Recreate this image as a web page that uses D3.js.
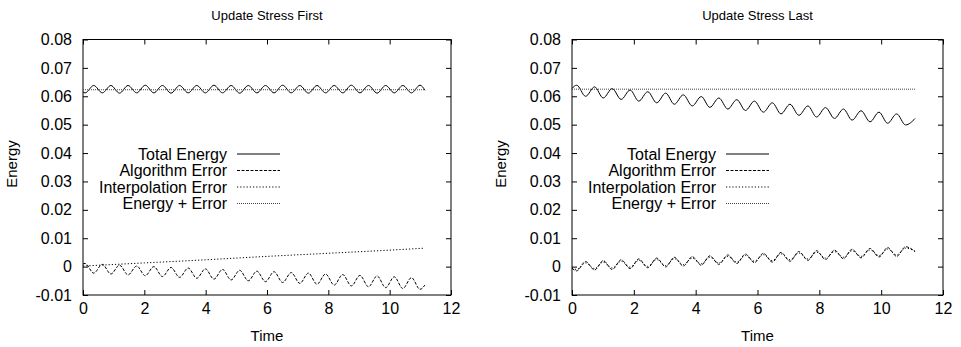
<!DOCTYPE html>
<html>
<head>
<meta charset="utf-8">
<script src="https://cdn.jsdelivr.net/npm/d3@7"></script>
<style>
  body { margin: 0; background: #fff; }
  svg { display: block; font-family: "Liberation Sans", Arial, Helvetica, sans-serif; }
  .tick text { font-size: 16px; fill: #000; }
  .tick line { stroke: #000; }
</style>
</head>
<body>
<svg width="961" height="347"></svg>
<script>
//Axis ticks
const xTicks = [0, 2, 4, 6, 8, 10, 12];
const xTickLabels = ["0", "2", "4", "6", "8", "10", "12"];
const yTicks = [-0.01, 0, 0.01, 0.02, 0.03, 0.04, 0.05, 0.06, 0.07, 0.08];
const yTickLabels = ["-0.01", "0", "0.01", "0.02", "0.03", "0.04", "0.05", "0.06", "0.07", "0.08"];

const seriesNames = ["Total Energy", "Algorithm Error", "Interpolation Error", "Energy + Error"];
const panelTitles = ["Update Stress First", "Update Stress Last"];

//Left panel (Update Stress First) - times of the wave peaks/troughs
const leftTime = [0, 0.07, 0.35, 0.63, 0.91, 1.19, 1.47, 1.75, 2.03, 2.31, 2.59, 2.87, 3.15, 3.43, 3.71, 3.99,
  4.27, 4.55, 4.83, 5.11, 5.39, 5.67, 5.95, 6.23, 6.51, 6.79, 7.07, 7.35, 7.63, 7.91, 8.19, 8.47,
  8.75, 9.03, 9.31, 9.59, 9.87, 10.15, 10.43, 10.71, 10.99, 11.15];
const leftTotal = [0.0615, 0.0612, 0.0638, 0.0612, 0.0638, 0.0611, 0.0638, 0.0612, 0.0639, 0.0612, 0.0638, 0.0611,
  0.0638, 0.0612, 0.0638, 0.0612, 0.0639, 0.0612, 0.0638, 0.0611, 0.0638, 0.0612, 0.0638, 0.0612,
  0.0639, 0.0612, 0.0638, 0.0611, 0.0638, 0.0612, 0.0638, 0.0612, 0.0639, 0.0612, 0.0638, 0.0611,
  0.0638, 0.0612, 0.0638, 0.0612, 0.0639, 0.0621];
const leftAlgorithm = [0.0010, 0.0011, -0.0023, 0.0008, -0.0026, 0.0005, -0.0029, 0.0002, -0.0032, 0.0000,
  -0.0035, -0.0003, -0.0038, -0.0005, -0.0041, -0.0008, -0.0044, -0.0010, -0.0047, -0.0013, -0.0050,
  -0.0016, -0.0053, -0.0018, -0.0056, -0.0021, -0.0059, -0.0023, -0.0062, -0.0026, -0.0065, -0.0028,
  -0.0068, -0.0031, -0.0071, -0.0033, -0.0074, -0.0036, -0.0077, -0.0039, -0.0080, -0.0065];
const leftInterpTime = [0, 2, 4, 6, 8, 10, 11.15];
const leftInterp = [0.0002, 0.0013, 0.0024, 0.0036, 0.0047, 0.0058, 0.0065];
const leftSumTime = [0, 11.15];
const leftSum = [0.0623, 0.0623];

//Right panel (Update Stress Last)
const rightTime = [0, 0.15, 0.44, 0.73, 1.01, 1.30, 1.59, 1.88, 2.16, 2.45, 2.74, 3.03, 3.31, 3.60, 3.89,
  4.18, 4.46, 4.75, 5.04, 5.33, 5.61, 5.90, 6.19, 6.48, 6.76, 7.05, 7.34, 7.63, 7.91, 8.20, 8.49,
  8.78, 9.06, 9.35, 9.64, 9.93, 10.21, 10.50, 10.79, 11.1];
const rightTotal = [0.0628, 0.0639, 0.0600, 0.0633, 0.0594, 0.0627, 0.0589, 0.0622, 0.0583, 0.0616, 0.0577,
  0.0611, 0.0572, 0.0605, 0.0566, 0.0599, 0.0561, 0.0594, 0.0555, 0.0588, 0.0550, 0.0583, 0.0544,
  0.0577, 0.0538, 0.0572, 0.0533, 0.0566, 0.0527, 0.0560, 0.0522, 0.0555, 0.0516, 0.0549, 0.0510,
  0.0544, 0.0505, 0.0538, 0.0499, 0.0522];
const rightAlgorithm = [-0.0006, -0.0015, 0.0018, -0.0012, 0.0021, -0.0010, 0.0024, -0.0007, 0.0027, -0.0004,
  0.0030, -0.0001, 0.0033, 0.0002, 0.0035, 0.0005, 0.0038, 0.0008, 0.0041, 0.0011, 0.0044, 0.0014,
  0.0047, 0.0016, 0.0050, 0.0019, 0.0053, 0.0022, 0.0056, 0.0025, 0.0058, 0.0028, 0.0061, 0.0031,
  0.0064, 0.0034, 0.0067, 0.0036, 0.0070, 0.0053];
const rightInterp = [-0.0004, -0.0010, 0.0013, -0.0007, 0.0016, -0.0005, 0.0019, -0.0002, 0.0022, 0.0001,
  0.0025, 0.0004, 0.0028, 0.0007, 0.0030, 0.0010, 0.0033, 0.0013, 0.0036, 0.0016, 0.0039, 0.0019,
  0.0042, 0.0021, 0.0045, 0.0024, 0.0048, 0.0027, 0.0051, 0.0030, 0.0053, 0.0033, 0.0056, 0.0036,
  0.0059, 0.0039, 0.0062, 0.0041, 0.0065, 0.0054];
const rightSumTime = [0, 11.1];
const rightSum = [0.0625, 0.0625];

//Line styles per series (solid, dashed, dotted, fine dotted)
const dashStyles = [null, "3,1.5", "1.2,2", "1,1"];
const strokeColors = ["#000", "#000", "#000", "#444"];

const svg = d3.select("svg");
const plotTop = 39.5, plotBottom = 295;

function zip(ts, vs){ return ts.map((t, i) => [t, vs[i]]); }

function drawPanel(left, right, title, series){
  const xScale = d3.scaleLinear().domain([0, 12]).range([left, right]);
  const yScale = d3.scaleLinear().domain([-0.01, 0.08]).range([plotBottom, plotTop]);
  const g = svg.append("g");

  //Ticks on all four sides, pointing inward
  g.append("g")
   .attr("transform", "translate(0," + plotBottom + ")")
   .call(d3.axisBottom(xScale).tickValues(xTicks).tickFormat((d, i) => xTickLabels[i])
         .tickSizeInner(-5).tickSizeOuter(0).tickPadding(8))
   .call(a => a.select(".domain").remove());
  g.append("g")
   .attr("transform", "translate(0," + plotTop + ")")
   .call(d3.axisTop(xScale).tickValues(xTicks).tickFormat("").tickSizeInner(-5).tickSizeOuter(0))
   .call(a => a.select(".domain").remove());
  g.append("g")
   .attr("transform", "translate(" + left + ",0)")
   .call(d3.axisLeft(yScale).tickValues(yTicks).tickFormat((d, i) => yTickLabels[i])
         .tickSizeInner(-5).tickSizeOuter(0).tickPadding(11))
   .call(a => a.select(".domain").remove());
  g.append("g")
   .attr("transform", "translate(" + right + ",0)")
   .call(d3.axisRight(yScale).tickValues(yTicks).tickFormat("").tickSizeInner(-5).tickSizeOuter(0))
   .call(a => a.select(".domain").remove());

  g.selectAll("g").attr("font-family", null).attr("font-size", null);

  g.append("rect")
   .attr("x", left).attr("y", plotTop)
   .attr("width", right - left).attr("height", plotBottom - plotTop)
   .attr("fill", "none").attr("stroke", "#000");

  const line = d3.line()
                 .x(d => xScale(d[0]))
                 .y(d => yScale(d[1]))
                 .curve(d3.curveMonotoneX);

  series.forEach((s, i) => {
    g.append("path")
     .datum(s)
     .attr("d", line)
     .attr("fill", "none")
     .attr("stroke", strokeColors[i])
     .attr("stroke-width", 1)
     .attr("stroke-dasharray", dashStyles[i]);
  });

  //Legend
  const legendRight = left + 144;
  seriesNames.forEach((name, i) => {
    const y = 154 + i * 16.5;
    g.append("text")
     .attr("x", legendRight).attr("y", y)
     .attr("dy", "0.35em")
     .attr("text-anchor", "end")
     .attr("font-size", 16)
     .text(name);
    g.append("line")
     .attr("x1", legendRight + 10).attr("x2", legendRight + 53)
     .attr("y1", y).attr("y2", y)
     .attr("stroke", strokeColors[i])
     .attr("stroke-dasharray", dashStyles[i]);
  });

  //Labels
  const mid = (left + right) / 2;
  g.append("text")
   .attr("x", mid).attr("y", 20)
   .attr("text-anchor", "middle")
   .attr("font-size", 13)
   .text(title);
  g.append("text")
   .attr("x", mid).attr("y", 341)
   .attr("text-anchor", "middle")
   .attr("font-size", 15)
   .text("Time");
  g.append("text")
   .attr("transform", "translate(" + (left - 66) + "," + 164 + ") rotate(-90)")
   .attr("text-anchor", "middle")
   .attr("font-size", 15)
   .text("Energy");
}

drawPanel(83, 451, panelTitles[0], [
  zip(leftTime, leftTotal),
  zip(leftTime, leftAlgorithm),
  zip(leftInterpTime, leftInterp),
  zip(leftSumTime, leftSum)
]);

drawPanel(572, 943, panelTitles[1], [
  zip(rightTime, rightTotal),
  zip(rightTime, rightAlgorithm),
  zip(rightTime, rightInterp),
  zip(rightSumTime, rightSum)
]);
</script>
</body>
</html>
